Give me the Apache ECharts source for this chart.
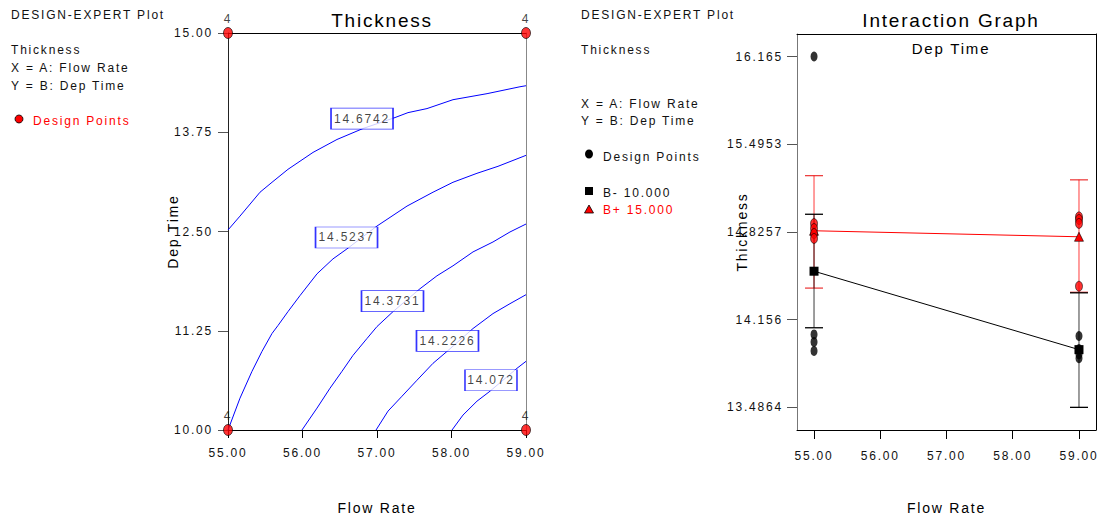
<!DOCTYPE html>
<html>
<head>
<meta charset="utf-8">
<script src="https://cdn.jsdelivr.net/npm/echarts@6/dist/echarts.min.js"></script>
<style>
html,body{margin:0;padding:0;background:#fff;}
#chart{width:1097px;height:520px;}
#chart text{letter-spacing:1.8px;}
</style>
</head>
<body>
<div id="chart"></div>
<script>
// ---------- data ----------
const flowTicks = [55, 56, 57, 58, 59];
const depTicks = [10, 11.25, 12.5, 13.75, 15];
const thickTicks = [13.4864, 14.156, 14.8257, 15.4953, 16.165];

// contour plot (left)
const contourLevels = ['14.6742', '14.5237', '14.3731', '14.2226', '14.072'];
const contour14_6742 = [[55,12.519],[55.161,12.694],[55.430,12.995],[55.591,13.120],[55.805,13.283],[56.141,13.496],[56.463,13.659],[56.812,13.797],[57.242,13.935],[57.416,13.997],[57.671,14.048],[58.020,14.160],[58.477,14.236],[58.919,14.323],[59,14.336]];
const contour14_5237 = [[59,13.459],[58.624,13.321],[58.342,13.233],[58.020,13.120],[57.752,12.995],[57.403,12.820],[57.0,12.569],[56.597,12.281],[56.409,12.155],[56.195,11.967],[55.966,11.692],[55.805,11.491],[55.671,11.316],[55.591,11.216],[55.456,10.990],[55.322,10.739],[55.161,10.401],[55,10]];
const contour14_3731 = [[59,12.594],[58.785,12.494],[58.557,12.368],[58.289,12.243],[58.020,12.068],[57.805,11.942],[57.577,11.779],[57.215,11.491],[57.0,11.303],[56.866,11.153],[56.678,10.940],[56.530,10.739],[56.369,10.526],[56.195,10.276],[55.993,10.0]];
const contour14_2226 = [[59,11.704],[58.785,11.591],[58.557,11.466],[58.289,11.278],[57.940,10.990],[57.752,10.840],[57.537,10.627],[57.336,10.426],[57.148,10.238],[56.987,10.0]];
const contour14_072 = [[59,10.865],[58.879,10.777],[58.517,10.489],[58.342,10.363],[58.154,10.188],[58.007,10.0]];
const contourLabelAt = [[56.799,13.922],[56.591,12.425],[57.208,11.623],[57.946,11.122],[58.530,10.627]];
const designPoints = [[55,10],[55,15],[59,10],[59,15]];
const designReplicates = [4, 4, 4, 4];

// interaction graph (right)
const pointsBminus = [[55,16.165],[55,14.042],[55,13.985],[55,13.916],[59,14.03],[59,13.93],[59,13.89],[59,13.86]];
const pointsBplus = [[55,14.889],[55,14.851],[55,14.813],[55,14.775],[59,14.94],[59,14.92],[59,14.89],[59,14.41]];
const meanBminus = [[55,14.525],[59,13.926]];
const meanBplus = [[55,14.834],[59,14.788]];
const errBminus = [[55,14.093,14.960],[59,13.485,14.360]];
const errBplus = [[55,14.396,15.255],[59,14.364,15.223]];

// ---------- chart ----------
const FONT = '"Liberation Sans", Arial, sans-serif';
const TXT = '#111';
const chart = echarts.init(document.getElementById('chart'), null, {renderer: 'svg'});

function frameAxis(extra) {
  return Object.assign({
    type: 'value', axisLabel: {show: false}, axisTick: {show: false},
    splitLine: {show: false}, axisLine: {onZero: false, lineStyle: {color: '#000', width: 1}}
  }, extra);
}

function errorBar(data, barColor, capColor, z) {
  return {
    type: 'custom', xAxisIndex: 2, yAxisIndex: 2, z: z, data: data,
    encode: {x: 0, y: [1, 2]},
    renderItem: function (params, api) {
      const x = api.value(0);
      const lo = api.coord([x, api.value(1)]);
      const hi = api.coord([x, api.value(2)]);
      const hw = 9;
      return {type: 'group', children: [
        {type: 'line', shape: {x1: lo[0], y1: lo[1], x2: hi[0], y2: hi[1]}, style: {stroke: barColor, lineWidth: 1.4}},
        {type: 'line', shape: {x1: lo[0] - hw, y1: lo[1], x2: lo[0] + hw, y2: lo[1]}, style: {stroke: capColor, lineWidth: 1.3}},
        {type: 'line', shape: {x1: hi[0] - hw, y1: hi[1], x2: hi[0] + hw, y2: hi[1]}, style: {stroke: capColor, lineWidth: 1.3}}
      ]};
    }
  };
}

const contourSets = [contour14_6742, contour14_5237, contour14_3731, contour14_2226, contour14_072];

function txt(text, x, y, fill, size) {
  return {type: 'text', x: x, y: y, z: 10, style: {text: text, font: (size || 12) + 'px ' + FONT, fill: fill || TXT, verticalAlign: 'middle'}};
}

const option = {
  animation: false,
  backgroundColor: '#fff',
  textStyle: {fontFamily: FONT},
  title: [
    {text: 'Thickness', left: 377, top: 6, textAlign: 'center', textStyle: {fontSize: 19, fontWeight: 'normal', color: '#000', fontFamily: FONT}},
    {text: 'Interaction Graph', left: 946, top: 6, textAlign: 'center', textStyle: {fontSize: 19, fontWeight: 'normal', color: '#000', fontFamily: FONT}},
    {text: 'Dep Time', left: 946, top: 36, textAlign: 'center', textStyle: {fontSize: 15, fontWeight: 'normal', color: '#000', fontFamily: FONT}}
  ],
  grid: [
    {left: 228, top: 33, width: 298, height: 399},
    {left: 797, top: 34, width: 299, height: 399}
  ],
  xAxis: [
    {
      type: 'value', gridIndex: 0, min: 55, max: 59, interval: 1,
      name: 'Flow Rate', nameLocation: 'middle', nameGap: 71, nameMoveOverlap: false,
      nameTextStyle: {fontSize: 14, color: '#000', fontFamily: FONT},
      axisLine: {onZero: false, lineStyle: {color: '#000', width: 1}},
      axisTick: {length: 8, lineStyle: {color: '#000'}},
      axisLabel: {margin: 17, fontSize: 12, color: TXT, fontFamily: FONT, formatter: v => v.toFixed(2)},
      splitLine: {show: false}
    },
    frameAxis({gridIndex: 0, position: 'top', min: 55, max: 59}),
    {
      type: 'value', gridIndex: 1, min: 54.743, max: 59.257,
      name: 'Flow Rate', nameLocation: 'middle', nameGap: 71, nameMoveOverlap: false,
      nameTextStyle: {fontSize: 14, color: '#000', fontFamily: FONT},
      axisLine: {onZero: false, lineStyle: {color: '#000', width: 1}},
      axisTick: {length: 9, customValues: flowTicks, lineStyle: {color: '#000'}},
      axisLabel: {margin: 20, fontSize: 12, color: TXT, fontFamily: FONT, customValues: flowTicks, formatter: v => Number(v).toFixed(2)},
      splitLine: {show: false}
    },
    frameAxis({gridIndex: 1, position: 'top', min: 54.743, max: 59.257})
  ],
  yAxis: [
    {
      type: 'value', gridIndex: 0, min: 10, max: 15, interval: 1.25,
      name: 'Dep Time', nameLocation: 'middle', nameGap: 48, nameMoveOverlap: false,
      nameTextStyle: {fontSize: 14, color: '#000', fontFamily: FONT},
      axisLine: {onZero: false, lineStyle: {color: '#222', width: 1}},
      axisTick: {length: 10, lineStyle: {color: '#555'}},
      axisLabel: {margin: 15, fontSize: 12, color: TXT, fontFamily: FONT, formatter: v => v.toFixed(2)},
      splitLine: {show: false}
    },
    frameAxis({gridIndex: 0, position: 'right', min: 10, max: 15, axisLine: {onZero: false, lineStyle: {color: '#888', width: 1}}}),
    {
      type: 'value', gridIndex: 1, min: 13.312, max: 16.337,
      name: 'Thickness', nameLocation: 'middle', nameGap: 48, nameMoveOverlap: false,
      nameTextStyle: {fontSize: 14, color: '#000', fontFamily: FONT},
      axisLine: {onZero: false, lineStyle: {color: '#777', width: 1}},
      axisTick: {length: 10, customValues: thickTicks, lineStyle: {color: '#555'}},
      axisLabel: {margin: 14, fontSize: 12, color: TXT, fontFamily: FONT, customValues: thickTicks, formatter: v => String(v)},
      splitLine: {show: false}
    },
    frameAxis({gridIndex: 1, position: 'right', min: 13.312, max: 16.337})
  ],
  series: [
    // contour lines
    ...contourSets.map((d, i) => ({
      type: 'line', name: contourLevels[i], xAxisIndex: 0, yAxisIndex: 0, data: d,
      showSymbol: false, symbol: 'none', smooth: false, z: 2,
      lineStyle: {color: '#0000ff', width: 1}
    })),
    // contour labels
    {
      type: 'scatter', xAxisIndex: 0, yAxisIndex: 0, z: 4, clip: false,
      data: contourLabelAt.map((p, i) => ({name: contourLevels[i], value: p})),
      symbol: 'rect',
      symbolSize: (v, p) => [p.name.length > 6 ? 62 : 52, 21],
      itemStyle: {color: '#fff', borderColor: '#0000ff', borderWidth: 1},
      label: {show: true, position: 'inside', formatter: p => p.name, color: TXT, fontSize: 12, fontFamily: FONT}
    },
    // design points (left)
    {
      type: 'scatter', xAxisIndex: 0, yAxisIndex: 0, z: 5, clip: false,
      data: designPoints.map((p, i) => ({value: p, rep: designReplicates[i]})),
      symbol: 'circle', symbolSize: [9, 11],
      itemStyle: {color: '#ff0000', borderColor: '#000', borderWidth: 0.8},
      label: {show: true, position: 'top', distance: 2, formatter: p => String(designReplicates[p.dataIndex]), color: TXT, fontSize: 12, fontFamily: FONT}
    },
    // error bars (right)
    errorBar(errBplus, 'rgba(255,0,0,0.55)', 'rgba(230,0,0,0.75)', 2),
    errorBar(errBminus, 'rgba(0,0,0,0.55)', '#000', 2),
    // mean lines
    {
      type: 'line', name: 'B- 10.000', xAxisIndex: 2, yAxisIndex: 2, data: meanBminus, z: 3,
      symbol: 'rect', symbolSize: 9, showSymbol: true,
      lineStyle: {color: '#000', width: 1}, itemStyle: {color: '#000'}
    },
    {
      type: 'line', name: 'B+ 15.000', xAxisIndex: 2, yAxisIndex: 2, data: meanBplus, z: 3,
      symbol: 'triangle', symbolSize: 9, showSymbol: true,
      lineStyle: {color: '#ff0000', width: 1}, itemStyle: {color: '#ff0000', borderColor: '#000', borderWidth: 0.6}
    },
    // design points (right)
    {
      type: 'scatter', xAxisIndex: 2, yAxisIndex: 2, data: pointsBminus, z: 4, clip: false,
      symbol: 'circle', symbolSize: [7, 10], itemStyle: {color: '#000'}
    },
    {
      type: 'scatter', xAxisIndex: 2, yAxisIndex: 2, data: pointsBplus, z: 4, clip: false,
      symbol: 'circle', symbolSize: [7, 10], itemStyle: {color: '#ff0000', borderColor: '#000', borderWidth: 0.7}
    }
  ],
  graphic: [
    txt('DESIGN-EXPERT Plot', 11, 14.5),
    txt('Thickness', 11, 49.5),
    txt('X = A: Flow Rate', 11, 68),
    txt('Y = B: Dep Time', 11, 85.5),
    {type: 'circle', z: 10, shape: {cx: 19, cy: 119, r: 4}, style: {fill: '#ff0000', stroke: '#000', lineWidth: 0.8}},
    txt('Design Points', 33, 120.5, '#ff0000'),

    txt('DESIGN-EXPERT Plot', 581, 14.5),
    txt('Thickness', 581, 49.5),
    txt('X = A: Flow Rate', 581, 104),
    txt('Y = B: Dep Time', 581, 120.5),
    {type: 'ellipse', z: 10, shape: {cx: 589, cy: 154, rx: 4, ry: 4.5}, style: {fill: '#000'}},
    txt('Design Points', 603, 157),
    {type: 'rect', z: 10, shape: {x: 585, y: 187, width: 8, height: 8}, style: {fill: '#000'}},
    txt('B- 10.000', 603, 192.5),
    {type: 'polygon', z: 10, shape: {points: [[589, 205], [593.5, 213], [584.5, 213]]}, style: {fill: '#ff0000', stroke: '#000', lineWidth: 0.8}},
    txt('B+ 15.000', 603, 209.5, '#ff0000')
  ]
};
chart.setOption(option);
</script>
</body>
</html>
